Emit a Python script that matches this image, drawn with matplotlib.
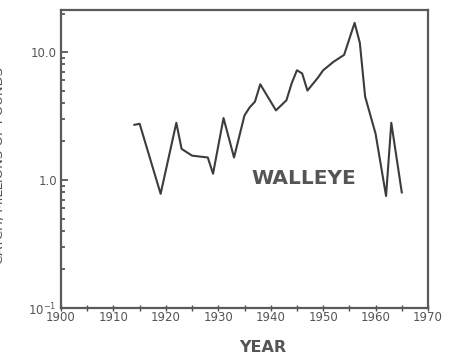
import matplotlib
matplotlib.use("Agg")
import matplotlib.pyplot as plt
from matplotlib.ticker import FixedLocator, LogLocator, NullFormatter

# walleye catch, millions of pounds
years = [1914, 1915, 1919, 1922, 1923, 1925, 1928, 1929, 1931, 1933,
         1935, 1936, 1937, 1938, 1941, 1943, 1944, 1945, 1946, 1947,
         1949, 1950, 1952, 1954, 1956, 1957, 1958, 1960, 1962, 1963, 1965]
catch = [2.7, 2.75, 0.78, 2.8, 1.75, 1.55, 1.5, 1.12, 3.05, 1.5,
         3.2, 3.7, 4.1, 5.6, 3.5, 4.2, 5.7, 7.2, 6.8, 5.0,
         6.3, 7.2, 8.4, 9.5, 16.9, 11.8, 4.5, 2.3, 0.75, 2.8, 0.8]

x_ticks = list(range(1900, 1971, 10))
x_minor = list(range(1905, 1970, 10))
y_ticks = [0.1, 1.0, 10.0]
y_ticklabels = ["10$^{-1}$", "1.0", "10.0"]

INK = "#4a4a4a"

fig = plt.figure(figsize=(4.5, 3.56), dpi=100)
ax = fig.add_axes([61 / 450, 1 - 308 / 356, 367 / 450, 298 / 356])

ax.plot(years, catch, color="#3c3c3c", lw=1.5, solid_joinstyle="round")

ax.set_yscale("log")
ax.set_xlim(1900, 1970)
ax.set_ylim(0.1, 21.3)

ax.set_yticks(y_ticks)
ax.set_yticklabels(y_ticklabels)
ax.yaxis.set_minor_locator(LogLocator(base=10, subs=range(2, 10)))
ax.yaxis.set_minor_formatter(NullFormatter())
ax.tick_params(axis="y", which="major", direction="in", length=5, width=1.2,
               color=INK, labelsize=8.5, labelcolor="#555555", pad=3)
ax.tick_params(axis="y", which="minor", direction="in", length=3, width=1.2,
               color=INK)

ax.set_xticks(x_ticks)
ax.xaxis.set_minor_locator(FixedLocator(x_minor))
ax.tick_params(axis="x", which="major", direction="inout", length=4,
               width=1.0, color=INK, labelsize=8.5, labelcolor="#555555",
               pad=0)
ax.tick_params(axis="x", which="minor", direction="inout", length=5,
               width=1.0, color=INK)

for side, sp in ax.spines.items():
    sp.set_color("#5a5a5a")
    sp.set_linewidth(1.6)

ax.text(1936.4, 1.03, "WALLEYE", fontsize=14.5, fontweight="bold",
        color="#555555", ha="left", va="center")

fig.text(263 / 450, 1 - 347 / 356, "YEAR", fontsize=11.5, fontweight="bold",
         color="#555555", ha="center", va="center")
fig.text(-0.8 / 450, 1 - 165 / 356, "CATCH, MILLIONS OF POUNDS", fontsize=9.5,
         color="#555555", rotation=90, ha="center", va="center")

fig.savefig("out.png", dpi=100)
